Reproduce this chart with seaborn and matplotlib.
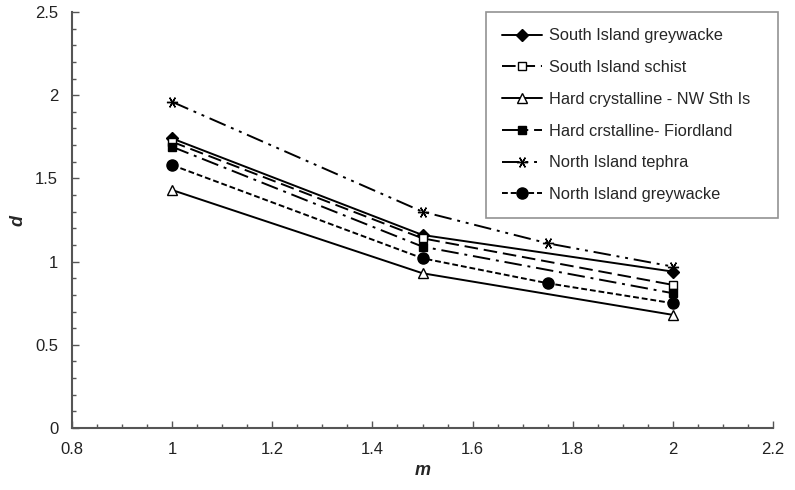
import pandas as pd
import matplotlib
matplotlib.use("Agg")
import matplotlib.pyplot as plt
import seaborn as sns
from matplotlib.ticker import MultipleLocator

# données
series = ['South Island greywacke', 'South Island schist', 'Hard crystalline - NW Sth Is',
          'Hard crstalline- Fiordland', 'North Island tephra', 'North Island greywacke']
m_sig = [1.0, 1.5, 2.0]
d_sig = [1.74, 1.16, 0.94]
m_sis = [1.0, 1.5, 2.0]
d_sis = [1.72, 1.14, 0.86]
m_nw = [1.0, 1.5, 2.0]
d_nw = [1.43, 0.93, 0.68]
m_fio = [1.0, 1.5, 2.0]
d_fio = [1.69, 1.09, 0.81]
m_tep = [1.0, 1.5, 1.75, 2.0]
d_tep = [1.96, 1.30, 1.11, 0.97]
m_nig = [1.0, 1.5, 1.75, 2.0]
d_nig = [1.58, 1.02, 0.87, 0.75]

xs = [m_sig, m_sis, m_nw, m_fio, m_tep, m_nig]
ys = [d_sig, d_sis, d_nw, d_fio, d_tep, d_nig]

styles = [
    dict(marker='D', markersize=6, markerfacecolor='black', linestyle='-'),
    dict(marker='s', markersize=6, markerfacecolor='white', linestyle=(0, (7, 3))),
    dict(marker='^', markersize=7, markerfacecolor='white', linestyle='-'),
    dict(marker='s', markersize=6, markerfacecolor='black', linestyle=(0, (9, 3, 1.5, 3))),
    dict(marker=(6, 2, 90), markersize=8, markerfacecolor='black', linestyle=(0, (9, 3, 1.5, 3, 1.5, 3))),
    dict(marker='o', markersize=8, markerfacecolor='black', linestyle=(0, (3, 1.5))),
]

sns.set_style('white')
plt.rcParams['font.family'] = ['Liberation Sans', 'DejaVu Sans']

fig = plt.figure(figsize=(7.95, 4.9), dpi=100)
ax = fig.add_axes([0.0906, 0.1265, 0.8817, 0.849])

for name, x, y, st in zip(series, xs, ys, styles):
    df = pd.DataFrame({'m': x, 'd': y})
    sns.lineplot(data=df, x='m', y='d', ax=ax, color='black', linewidth=1.4,
                 markeredgecolor='black', markeredgewidth=1.0, label=name, **st)

ax.set_xlim(0.8, 2.2)
ax.set_ylim(0, 2.5)
ax.xaxis.set_major_locator(MultipleLocator(0.2))
ax.xaxis.set_minor_locator(MultipleLocator(0.05))
ax.yaxis.set_major_locator(MultipleLocator(0.5))
ax.yaxis.set_minor_locator(MultipleLocator(0.1))
ax.set_xticklabels([f'{v:g}' for v in ax.get_xticks()])
ax.set_yticklabels([f'{v:g}' for v in ax.get_yticks()])
ax.tick_params(which='both', direction='in', bottom=True, left=True, color='#555555',
               labelsize=12, labelcolor='#222222')
ax.tick_params(which='major', length=5, width=1)
ax.tick_params(which='minor', length=3, width=1)
ax.tick_params(axis='x', pad=10)
ax.tick_params(axis='y', pad=10)
for s in ['top', 'right']:
    ax.spines[s].set_visible(False)
for s in ['left', 'bottom']:
    ax.spines[s].set_color('#555555')
    ax.spines[s].set_linewidth(1.5)

ax.set_xlabel('m', fontsize=13, fontweight='bold', style='italic', labelpad=4)
ax.set_ylabel('d', fontsize=13, fontweight='bold', style='italic', labelpad=6)

# légende : cadre élargi comme dans Excel
leg = ax.legend(loc='upper left', bbox_to_anchor=(0.5906, 0.0, 0.4166, 1.0), mode='expand',
                fontsize=11.8, frameon=True, fancybox=False, edgecolor='#777777',
                handlelength=2.4, labelspacing=1.02, borderpad=1.0, handletextpad=0.45,
                borderaxespad=0.0)
leg.get_frame().set_linewidth(1.2)

plt.savefig('out.png', dpi=100)
